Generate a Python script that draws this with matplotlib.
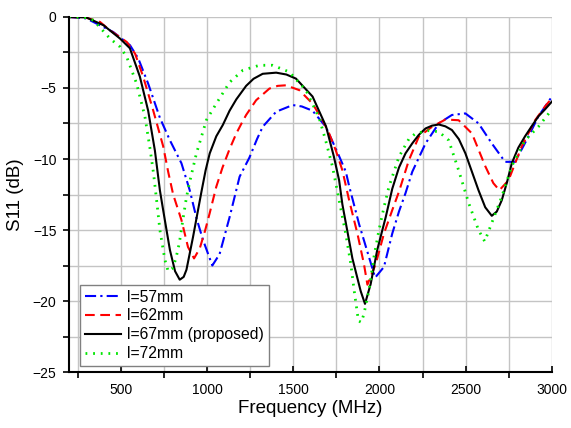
import matplotlib
matplotlib.use("Agg")
import matplotlib.pyplot as plt
from matplotlib.ticker import MultipleLocator

plt.rcParams['font.family'] = ['Liberation Sans', 'DejaVu Sans']
plt.rcParams['lines.scale_dashes'] = False

# measured S11 curves for four slot lengths (frequency in MHz, S11 in dB)
f_57 = [200, 300, 361, 457, 554, 602, 659, 727, 785, 852, 900, 940, 977, 1031,
        1073, 1131, 1189, 1246, 1290, 1323, 1401, 1497, 1550, 1612, 1689, 1766,
        1805, 1824, 1882, 1939, 1975, 2026, 2074, 2113, 2151, 2190, 2267, 2344,
        2420, 2498, 2574, 2651, 2728, 2786, 2863, 2921, 3000]
s_57 = [0, -0.1, -0.47, -1.06, -1.99, -2.93, -4.69, -7.1, -8.68, -10.3, -12.2,
        -14.2, -15.7, -17.5, -16.7, -14.1, -11.25, -9.9, -8.6, -7.73, -6.67, -6.2,
        -6.3, -6.6, -7.73, -9.8, -10.9, -11.9, -14.6, -16.9, -18.35, -17.6, -15.25,
        -13.7, -12.4, -10.9, -8.9, -7.49, -6.9, -6.79, -7.49, -8.9, -10.2, -10.2,
        -8.43, -7.0, -5.6]

f_62 = [200, 300, 380, 438, 535, 583, 630, 688, 746, 775, 804, 852, 890, 925,
        958, 990, 1016, 1054, 1090, 1131, 1170, 1200, 1227, 1285, 1362, 1410, 1458,
        1535, 1612, 1670, 1708, 1747, 1785, 1824, 1872, 1910, 1930, 1978, 2026,
        2074, 2113, 2170, 2228, 2305, 2382, 2459, 2536, 2613, 2660, 2695, 2748,
        2825, 2902, 2960, 3000]
s_62 = [0, -0.05, -0.35, -0.94, -1.76, -2.58, -4.2, -6.57, -9.1, -10.9, -12.5,
        -14.3, -16.2, -17.0, -16.3, -15.0, -13.8, -11.95, -10.6, -9.3, -8.2, -7.5,
        -6.9, -5.86, -5.04, -4.85, -4.81, -5.15, -6.1, -7.27, -8.2, -9.4, -10.8,
        -12.9, -15.25, -17.4, -18.85, -17.4, -15.25, -13.6, -12.3, -10.1, -8.43,
        -7.73, -7.22, -7.27, -8.2, -10.5, -11.7, -12.2, -11.5, -9.1, -7.27, -6.3,
        -5.7]

f_67 = [200, 300, 400, 496, 553, 611, 659, 698, 727, 746, 785, 815, 842, 865,
        881, 919, 945, 968, 992, 1016, 1054, 1092, 1131, 1170, 1227, 1270, 1323,
        1401, 1460, 1516, 1612, 1690, 1735, 1766, 1785, 1843, 1891, 1916, 1949,
        1987, 2036, 2074, 2113, 2151, 2190, 2228, 2267, 2305, 2344, 2382, 2420,
        2460, 2498, 2536, 2574, 2613, 2651, 2680, 2709, 2740, 2767, 2805, 2844,
        2882, 2921, 2960, 3000]
s_67 = [0, -0.03, -0.58, -1.52, -2.2, -4.2, -6.6, -9.4, -12.2, -13.6, -16.4,
        -17.9, -18.5, -18.3, -17.8, -15.5, -13.8, -12.3, -10.8, -9.6, -8.4, -7.6,
        -6.6, -5.8, -4.85, -4.35, -4.0, -3.92, -4.05, -4.34, -5.6, -7.7, -9.8,
        -11.5, -13.2, -17.0, -19.3, -20.2, -18.8, -16.4, -14.1, -12.1, -10.6,
        -9.6, -8.9, -8.3, -7.85, -7.65, -7.57, -7.7, -7.96, -8.6, -9.6, -10.9,
        -12.2, -13.4, -14.0, -13.7, -12.9, -11.6, -10.3, -9.2, -8.4, -7.7, -7.0,
        -6.5, -5.95]

f_72 = [200, 300, 342, 438, 496, 535, 592, 640, 669, 690, 708, 727, 756, 775,
        800, 820, 840, 860, 881, 900, 939, 997, 1054, 1131, 1208, 1304, 1381,
        1477, 1574, 1650, 1688, 1727, 1766, 1805, 1834, 1853, 1878, 1895, 1910,
        1939, 1968, 1997, 2026, 2055, 2113, 2170, 2209, 2286, 2344, 2401, 2459,
        2517, 2574, 2610, 2651, 2709, 2767, 2844, 2921, 3000]
s_72 = [0, -0.05, -0.23, -1.52, -2.1, -2.82, -4.69, -7.0, -9.2, -11.0, -12.9,
        -15.0, -17.1, -17.9, -17.7, -17.0, -15.9, -14.3, -12.7, -11.6, -9.6, -7.25,
        -6.1, -4.6, -3.75, -3.4, -3.4, -3.87, -5.16, -7.1, -8.7, -10.5, -12.9,
        -15.3, -17.4, -19.25, -21.4, -21.5, -20.9, -19.25, -16.9, -15.0, -13.4,
        -11.95, -9.84, -8.6, -8.2, -8.0, -8.08, -8.68, -10.8, -13.1, -15.0, -15.8,
        -14.5, -12.65, -10.5, -8.68, -7.73, -6.5]

labels = ['l=57mm', 'l=62mm', 'l=67mm (proposed)', 'l=72mm']

fig = plt.figure(figsize=(5.71, 4.28), dpi=100)
ax = fig.add_axes([0.1208, 0.1308, 0.8459, 0.8295])

ax.plot(f_57, s_57, color='#0000ff', lw=1.5, ls=(0, (8, 3, 1.6, 3)), label=labels[0])
ax.plot(f_62, s_62, color='#ff0000', lw=1.5, ls=(0, (7, 4)), label=labels[1])
ax.plot(f_67, s_67, color='black', lw=1.5, ls='-', label=labels[2])
ax.plot(f_72, s_72, color='#00e600', lw=2.0, ls=(0, (1.3, 4.2)), label=labels[3])

ax.set_xlim(200, 3000)
ax.set_ylim(-25, 0)
ax.xaxis.set_major_locator(MultipleLocator(500))
ax.xaxis.set_minor_locator(MultipleLocator(250))
ax.yaxis.set_major_locator(MultipleLocator(5))
ax.yaxis.set_minor_locator(MultipleLocator(2.5))

ax.grid(True, which='both', color='#c4c4c4', lw=1.0)
ax.set_axisbelow(True)

for side in ['top', 'right']:
    ax.spines[side].set_visible(False)
for side in ['left', 'bottom']:
    ax.spines[side].set_linewidth(1.5)

ax.tick_params(axis='x', which='major', direction='in', length=4, width=1.2,
               labelsize=10, pad=8)
ax.tick_params(axis='x', which='minor', direction='out', length=4, width=1.2)
ax.tick_params(axis='y', which='both', direction='out', length=4, width=1.2,
               labelsize=10, pad=5)

ax.set_xlabel('Frequency (MHz)', fontsize=13.5, labelpad=2)
ax.set_ylabel('S11 (dB)', fontsize=13.5, labelpad=6)

leg = ax.legend(loc='lower left', bbox_to_anchor=(0.0228, 0.017), borderaxespad=0,
                fontsize=11.3, handlelength=2.3, labelspacing=0.25,
                fancybox=False, framealpha=1, edgecolor='#808080',
                borderpad=0.3, handletextpad=0.4)
leg.get_frame().set_linewidth(1.0)

fig.savefig('out.png', dpi=100)
